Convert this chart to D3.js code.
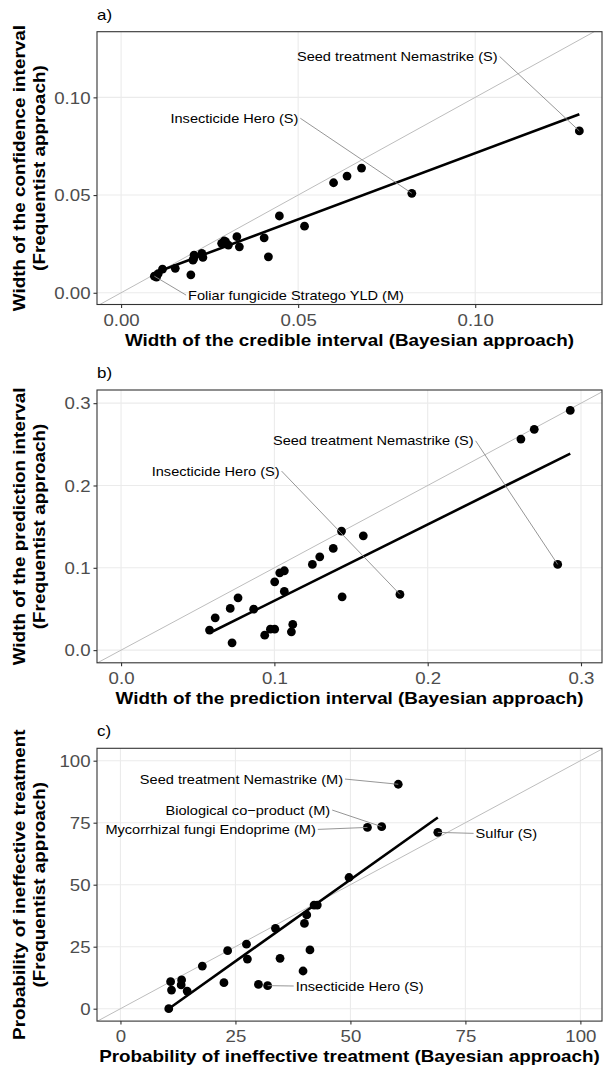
<!DOCTYPE html>
<html><head><meta charset="utf-8">
<script src="https://cdn.jsdelivr.net/npm/d3@7"></script>
<style>
body{margin:0;background:#fff}
svg{display:block}
text{font-family:"Liberation Sans",Arial,Helvetica,sans-serif}
</style>
</head><body>
<svg id="chart" width="603" height="1068"></svg>
<script>
// ---------------- data ----------------
// Panel a: width of credible (Bayesian) vs confidence (frequentist) interval
const aBayes = [0.0094, 0.0100, 0.0105, 0.0117, 0.0153, 0.0197, 0.0203, 0.0206, 0.0228, 0.0231, 0.0284, 0.0291, 0.0303, 0.0327, 0.0334, 0.0404, 0.0416, 0.0447, 0.0518, 0.0600, 0.0638, 0.0679, 0.0821, 0.1294, 0.0295, 0.0205];
const aFreq  = [0.0085, 0.0080, 0.0098, 0.0121, 0.0125, 0.0092, 0.0167, 0.0193, 0.0202, 0.0181, 0.0253, 0.0265, 0.0244, 0.0287, 0.0235, 0.0281, 0.0184, 0.0393, 0.0341, 0.0563, 0.0597, 0.0638, 0.0509, 0.0828, 0.0262, 0.0175];
const aTicks = [0, 0.05, 0.10];
const aTickLabels = ["0.00", "0.05", "0.10"];
const aLabelText = ["Foliar fungicide Stratego YLD (M)", "Insecticide Hero (S)", "Seed treatment Nemastrike (S)"];
const aLabelPoint = [0, 22, 23];
const aLabelX = [0.0494, 0.0320, 0.0780];
const aLabelY = [-0.0012, 0.0893, 0.1209];

// Panel b: width of prediction interval
const bBayes = [0.0577, 0.0614, 0.0712, 0.0724, 0.0763, 0.0865, 0.0937, 0.0974, 0.1002, 0.1002, 0.1035, 0.1065, 0.1065, 0.1111, 0.1120, 0.1248, 0.1296, 0.1384, 0.1438, 0.1442, 0.1580, 0.1819, 0.2608, 0.2695, 0.2930, 0.2848];
const bFreq  = [0.0243, 0.0392, 0.0507, 0.0089, 0.0635, 0.0498, 0.0182, 0.0255, 0.0255, 0.0830, 0.0939, 0.0964, 0.0713, 0.0222, 0.0312, 0.1041, 0.1134, 0.1236, 0.1446, 0.0648, 0.1389, 0.0677, 0.2564, 0.2682, 0.2912, 0.1041];
const bTicks = [0, 0.1, 0.2, 0.3];
const bTickLabels = ["0.0", "0.1", "0.2", "0.3"];
const bLabelText = ["Insecticide Hero (S)", "Seed treatment Nemastrike (S)"];
const bLabelPoint = [21, 25];
const bLabelX = [0.0617, 0.1645];
const bLabelY = [0.2175, 0.2543];

// Panel c: probability of ineffective treatment (%)
const cBayes = [10.5, 10.9, 11.1, 13.3, 13.2, 14.5, 17.8, 22.5, 23.3, 27.4, 27.6, 30.0, 32.0, 33.7, 34.7, 39.7, 40.0, 40.5, 41.2, 42.1, 42.8, 49.7, 60.4, 53.7, 56.8, 69.0];
const cFreq  = [0.0, 10.9, 7.5, 11.6, 9.6, 7.1, 17.2, 10.5, 23.4, 26.0, 20.0, 9.8, 9.3, 32.4, 20.3, 15.2, 34.4, 37.8, 23.7, 41.8, 41.8, 52.9, 90.5, 73.1, 73.4, 71.1];
const cTicks = [0, 25, 50, 75, 100];
const cTickLabels = ["0", "25", "50", "75", "100"];
const cLabelText = ["Insecticide Hero (S)", "Seed treatment Nemastrike (M)", "Mycorrhizal fungi Endoprime (M)", "Biological co\u2212product (M)", "Sulfur (S)"];
const cLabelPoint = [12, 22, 23, 24, 25];
const cLabelX = [52.0, 26.3, 19.6, 27.7, 83.9];
const cLabelY = [9.15, 92.6, 72.3, 80.1, 70.7];

const panelTags = ["a)", "b)", "c)"];
const xTitles = ["Width of the credible interval (Bayesian approach)",
                 "Width of the prediction interval (Bayesian approach)",
                 "Probability of ineffective treatment (Bayesian approach)"];
const yTitles = [["Width of the confidence interval", "(Frequentist approach)"],
                 ["Width of the prediction interval", "(Frequentist approach)"],
                 ["Probability of ineffective treatment", "(Frequentist approach)"]];

// ---------------- layout ----------------
const SX = 1.13;           // horizontal stretch of the reference image
const L = 97, R = 602, H = 272.8;
const panels = [
  {top: 31.7,  bx: aBayes, fy: aFreq, xd: [-0.0068, 0.1358], yd: [-0.0060, 0.1336], ticks: aTicks, tl: aTickLabels,
   lt: aLabelText, lp: aLabelPoint, lx: aLabelX, ly: aLabelY},
  {top: 390.0, bx: bBayes, fy: bFreq, xd: [-0.0157, 0.3137], yd: [-0.0154, 0.3160], ticks: bTicks, tl: bTickLabels,
   lt: bLabelText, lp: bLabelPoint, lx: bLabelX, ly: bLabelY},
  {top: 748.3, bx: cBayes, fy: cFreq, xd: [-5.1, 104.7], yd: [-5.0, 105.0], ticks: cTicks, tl: cTickLabels,
   lt: cLabelText, lp: cLabelPoint, lx: cLabelX, ly: cLabelY}
];

const svg = d3.select("#chart");
function txt(g, x, y, s, o) {
  const tr = `translate(${x},${y})` + (o.rotate ? ` rotate(${o.rotate}) scale(1,${1 / SX})` : ` scale(${SX},1)`);
  return g.append("text").attr("transform", tr)
    .attr("font-size", o.size).attr("font-weight", o.weight || "normal")
    .attr("fill", o.fill || "#000").attr("text-anchor", o.anchor || "start")
    .attr("dy", o.dy || 0).text(s);
}

function lsFit(xs, ys) {
  const mx = d3.mean(xs), my = d3.mean(ys);
  let sxy = 0, sxx = 0;
  xs.forEach((x, i) => { sxy += (x - mx) * (ys[i] - my); sxx += (x - mx) * (x - mx); });
  const b = sxy / sxx;
  return {a: my - b * mx, b};
}

panels.forEach((p, k) => {
  const top = p.top, bot = top + H;
  const x = d3.scaleLinear().domain(p.xd).range([L, R]);
  const y = d3.scaleLinear().domain(p.yd).range([bot, top]);
  const g = svg.append("g");

  // background + grid
  g.append("rect").attr("x", L).attr("y", top).attr("width", R - L).attr("height", H).attr("fill", "#fff");
  g.selectAll(".gx").data(p.ticks).enter().append("line")
    .attr("x1", d => x(d)).attr("x2", d => x(d)).attr("y1", top).attr("y2", bot)
    .attr("stroke", "#ebebeb").attr("stroke-width", 1.1);
  g.selectAll(".gy").data(p.ticks).enter().append("line")
    .attr("y1", d => y(d)).attr("y2", d => y(d)).attr("x1", L).attr("x2", R)
    .attr("stroke", "#ebebeb").attr("stroke-width", 1.1);

  const clipId = "clip" + k;
  svg.append("clipPath").attr("id", clipId).append("rect")
    .attr("x", L).attr("y", top).attr("width", R - L).attr("height", H);
  const pg = g.append("g").attr("clip-path", `url(#${clipId})`);

  // identity line
  const lo = Math.min(p.xd[0], p.yd[0]), hi = Math.max(p.xd[1], p.yd[1]);
  pg.append("line").attr("x1", x(lo)).attr("y1", y(lo)).attr("x2", x(hi)).attr("y2", y(hi))
    .attr("stroke", "#bdbdbd").attr("stroke-width", 1);

  // points data
  const pts = p.bx.map((v, i) => ({x: v, y: p.fy[i]}));

  // regression line (least squares over the data range)
  const fit = lsFit(p.bx, p.fy);
  const [xmin, xmax] = d3.extent(p.bx);
  pg.append("line").attr("x1", x(xmin)).attr("y1", y(fit.a + fit.b * xmin))
    .attr("x2", x(xmax)).attr("y2", y(fit.a + fit.b * xmax))
    .attr("stroke", "#000").attr("stroke-width", 2.6);

  // label text + segments
  const lg = g.append("g");
  p.lt.forEach((s, i) => {
    const cx = x(p.lx[i]), cy = y(p.ly[i]);
    const t = txt(lg, cx, cy, s, {size: 12.9, anchor: "middle", dy: "0.35em"});
    const w = t.node().getComputedTextLength() * SX;
    const pt = pts[p.lp[i]];
    const px = x(pt.x), py = y(pt.y);
    const sx0 = px > cx ? cx + w / 2 + 2 : cx - w / 2 - 2;
    lg.insert("line", "text").attr("x1", sx0).attr("y1", cy).attr("x2", px).attr("y2", py)
      .attr("stroke", "#8a8a8a").attr("stroke-width", 0.9);
  });

  // points
  pg.selectAll("circle").data(pts).enter().append("circle")
    .attr("cx", d => x(d.x)).attr("cy", d => y(d.y)).attr("r", 4.4).attr("fill", "#000");

  // border
  g.append("rect").attr("x", L).attr("y", top).attr("width", R - L).attr("height", H)
    .attr("fill", "none").attr("stroke", "#333").attr("stroke-width", 1.1);

  // axes
  const fmt = (d, i) => p.tl[i];
  const xa = g.append("g").attr("transform", `translate(0,${bot})`)
    .call(d3.axisBottom(x).tickValues(p.ticks).tickFormat(fmt).tickSize(3.5).tickSizeOuter(0));
  const ya = g.append("g").attr("transform", `translate(${L},0)`)
    .call(d3.axisLeft(y).tickValues(p.ticks).tickFormat(fmt).tickSize(3.5).tickSizeOuter(0));
  [xa, ya].forEach(a => {
    a.select(".domain").remove();
    a.selectAll("line").attr("stroke", "#333").attr("stroke-width", 1.1);
    a.selectAll("text").attr("font-size", 16.5).attr("fill", "#4d4d4d")
      .attr("font-family", '"Liberation Sans",Arial,sans-serif');
  });
  xa.selectAll("text").attr("y", 15.5).attr("dy", "0.35em").attr("transform", `scale(${SX},1)`);
  ya.selectAll("text").attr("x", -6.5 / SX).attr("dy", "0.35em").attr("transform", `scale(${SX},1)`);

  // titles
  txt(svg, (L + R) / 2, bot + 35.5, xTitles[k], {size: 16.7, weight: "bold", anchor: "middle", dy: "0.35em"});
  const mid = (top + bot) / 2;
  txt(svg, 19, mid, yTitles[k][0], {size: 18.9, weight: "bold", anchor: "middle", dy: "0.35em", rotate: -90});
  txt(svg, 39, mid, yTitles[k][1], {size: 18.9, weight: "bold", anchor: "middle", dy: "0.35em", rotate: -90});
  txt(svg, L, top - 12, panelTags[k], {size: 15});
});
</script>
</body></html>
